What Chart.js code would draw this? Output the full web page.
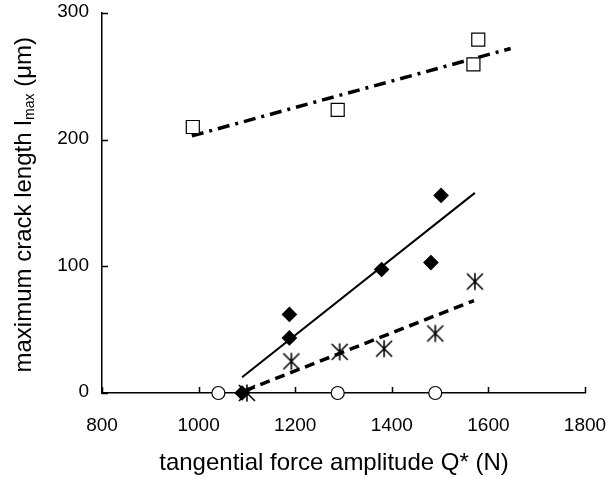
<!DOCTYPE html>
<html>
<head>
<meta charset="utf-8">
<script src="https://cdn.jsdelivr.net/npm/chart.js@4.4.1/dist/chart.umd.min.js"></script>
<style>
  html, body { margin: 0; padding: 0; background: #fff; }
  #c { display: block; }
</style>
</head>
<body>
<canvas id="c" width="608" height="479"></canvas>
<script>
// crack length vs tangential force amplitude

const X_TICKS = [800, 1000, 1200, 1400, 1600, 1800];
const Y_TICKS = [0, 100, 200, 300];

// open squares + dash-dot fit
const squareX = [988, 1288, 1569, 1579];
const squareY = [210, 223.5, 259.5, 279];
const fitSquareX = [986, 1646];
const fitSquareY = [203, 272];

// filled diamonds + solid fit
const diamondX = [1090, 1188, 1188, 1379, 1481, 1502];
const diamondY = [0, 43.5, 62, 97.5, 103, 156];
const fitDiamondX = [1090, 1572];
const fitDiamondY = [12.5, 158];

// asterisks + dashed fit
const starX = [1100, 1192, 1292, 1384, 1490, 1572];
const starY = [0, 25, 32.5, 35, 47, 88];
const fitStarX = [1097, 1570];
const fitStarY = [2, 73];

// open circles (no cracks)
const circleX = [1041, 1288, 1490];
const circleY = [0, 0, 0];

const FONT = "'Liberation Sans', Arial, Helvetica, sans-serif";
const pts = (xs, ys) => xs.map((x, i) => ({ x, y: ys[i] }));

// six-spoke asterisk marker
function asterisk() {
  const cv = document.createElement("canvas");
  cv.width = 20; cv.height = 20;
  const g = cv.getContext("2d");
  g.strokeStyle = "#000"; g.lineWidth = 1.6;
  g.beginPath();
  g.moveTo(10, 1.5); g.lineTo(10, 18.5);
  g.moveTo(2, 2); g.lineTo(18, 18);
  g.moveTo(18, 2); g.lineTo(2, 18);
  g.stroke();
  return cv;
}

const marker = (data, style, r, fill) => ({
  data, pointStyle: style, pointRadius: r, pointHoverRadius: r,
  pointBackgroundColor: fill, pointBorderColor: "#000", pointBorderWidth: 1.2,
  showLine: false, clip: false, order: 1,
});

const fit = (data, width, dash) => ({
  data, showLine: true, borderColor: "#000", borderWidth: width, borderDash: dash,
  pointRadius: 0, pointHoverRadius: 0, fill: false, clip: false, order: 2,
});

// inward tick marks + both axis titles
const axisDecor = {
  id: "axisDecor",
  beforeDatasetsDraw(chart) {
    const { ctx, scales: { x, y } } = chart;
    ctx.save();
    ctx.strokeStyle = "#000"; ctx.lineWidth = 1.5;
    ctx.beginPath();
    X_TICKS.forEach((v) => {
      const px = Math.round(x.getPixelForValue(v)) + 0.5;
      ctx.moveTo(px, y.bottom); ctx.lineTo(px, y.bottom - 6);
    });
    Y_TICKS.forEach((v) => {
      const py = Math.round(y.getPixelForValue(v)) + 0.5;
      ctx.moveTo(x.left, py); ctx.lineTo(x.left + 6, py);
    });
    ctx.stroke();
    ctx.restore();
  },
  afterDraw(chart) {
    const { ctx } = chart;
    ctx.save();
    ctx.fillStyle = "#000";
    ctx.textBaseline = "middle";
    ctx.textAlign = "center";
    ctx.font = `24px ${FONT}`;
    ctx.fillText("tangential force amplitude Q* (N)", 334, 463);

    // y title with subscript
    ctx.translate(24, 205);
    ctx.rotate(-Math.PI / 2);
    ctx.textAlign = "left";
    const a = "maximum crack length l", sub = "max", b = " (μm)";
    ctx.font = `24px ${FONT}`;
    const wa = ctx.measureText(a).width, wb = ctx.measureText(b).width;
    ctx.font = `14px ${FONT}`;
    const ws = ctx.measureText(sub).width;
    let cx = -(wa + ws + wb) / 2;
    ctx.font = `24px ${FONT}`;
    ctx.fillText(a, cx, 0); cx += wa;
    ctx.font = `14px ${FONT}`;
    ctx.fillText(sub, cx + 0.5, 6); cx += ws + 0.5;
    ctx.font = `24px ${FONT}`;
    ctx.fillText(b, cx, 0);
    ctx.restore();
  },
};

const noPad = (s) => { s.paddingLeft = 0; s.paddingRight = 0; s.paddingTop = 0; s.paddingBottom = 0; };

new Chart(document.getElementById("c"), {
  type: "scatter",
  data: {
    datasets: [
      marker(pts(squareX, squareY), "rect", 9.2, "#fff"),
      marker(pts(diamondX, diamondY), "rectRot", 7, "#000"),
      marker(pts(starX, starY), asterisk(), 10, "#000"),
      marker(pts(circleX, circleY), "circle", 6.5, "#fff"),
      fit(pts(fitSquareX, fitSquareY), 3.5, [12, 6, 3, 6]),
      fit(pts(fitDiamondX, fitDiamondY), 2, []),
      fit(pts(fitStarX, fitStarY), 3.5, [10, 6]),
    ],
  },
  options: {
    responsive: false,
    animation: false,
    events: [],
    layout: { padding: { top: 13, right: 23, left: 0, bottom: 0 } },
    plugins: { legend: { display: false }, tooltip: { enabled: false } },
    scales: {
      x: {
        type: "linear", min: 800, max: 1800,
        afterBuildTicks: (s) => { s.ticks = X_TICKS.map((v) => ({ value: v })); },
        afterFit: (s) => { s.height = 86; noPad(s); },
        ticks: { color: "#000", font: { family: FONT, size: 19 }, padding: 21, maxRotation: 0,
          callback: (v) => String(v) },
        grid: { display: false, drawTicks: false },
        border: { display: true, color: "#000", width: 1.5 },
      },
      y: {
        type: "linear", min: 0, max: 300,
        afterBuildTicks: (s) => { s.ticks = Y_TICKS.map((v) => ({ value: v })); },
        afterFit: (s) => { s.width = 102; noPad(s); },
        ticks: { color: "#000", font: { family: FONT, size: 19 }, padding: 13, labelOffset: -1,
          callback: (v) => String(v) },
        grid: { display: false, drawTicks: false },
        border: { display: true, color: "#000", width: 1.5 },
      },
    },
  },
  plugins: [axisDecor],
});
</script>
</body>
</html>
